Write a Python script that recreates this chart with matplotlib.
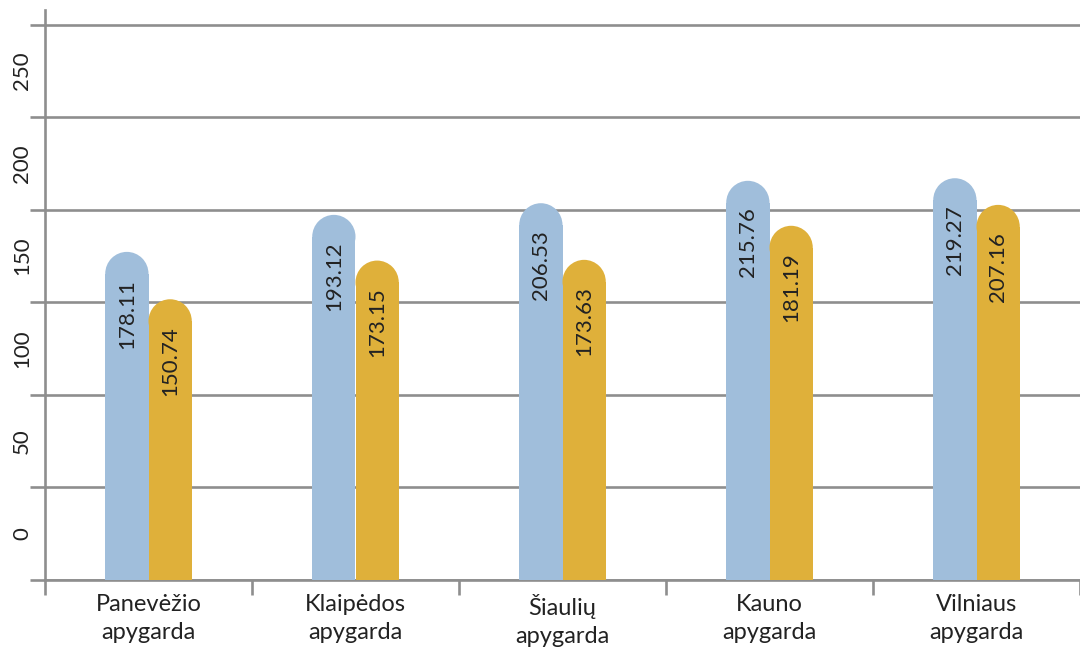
import matplotlib.pyplot as plt
import matplotlib.transforms as mtransforms
from matplotlib.patches import Ellipse
import numpy as np

plt.rcParams['font.family'] = ['Lato', 'DejaVu Sans']

# data
categories = ['Panevėžio\napygarda', 'Klaipėdos\napygarda', 'Šiaulių\napygarda',
              'Kauno\napygarda', 'Vilniaus\napygarda']
# bar heights as drawn in the picture
heights_a = [177.3, 197.3, 203.6, 215.7, 217.1]
heights_b = [151.7, 172.6, 173.0, 191.4, 202.7]
# printed values
labels_a = ['178.11', '193.12', '206.53', '215.76', '219.27']
labels_b = ['150.74', '173.15', '173.63', '181.19', '207.16']
y_ticks = [0, 50, 100, 150, 200, 250, 300]
y_tick_labels = ['0', '50', '100', '150', '200', '250']

color_a = '#a0bedb'
color_b = '#dfb03a'
grid_color = '#8e8e8e'
text_color = '#222222'

W, H, DPI = 10.8, 6.56, 100
fig = plt.figure(figsize=(W, H), dpi=DPI)
ax_left, ax_bottom = 45 / 1080, (656 - 580) / 656
ax_w, ax_h = 1 - ax_left, 570 / 656
ax = fig.add_axes([ax_left, ax_bottom, ax_w, ax_h])

x_lim = (-0.5, -0.5 + 1035 / 208.4)
y_lim = (0, 308)
ax.set_xlim(*x_lim)
ax.set_ylim(*y_lim)

bar_w = 0.209
x = np.arange(len(categories))

# pixel -> data scale for round caps
px_per_x = ax_w * W * DPI / (x_lim[1] - x_lim[0])
px_per_y = ax_h * H * DPI / (y_lim[1] - y_lim[0])
r_px = bar_w * px_per_x / 2
r_y = r_px / px_per_y

for vals, labs, off, col in [(heights_a, labels_a, -bar_w / 2, color_a),
                             (heights_b, labels_b, bar_w / 2, color_b)]:
    vals = np.array(vals)
    ax.bar(x + off, vals - r_y, width=bar_w, color=col, linewidth=0, zorder=3)
    for xi, v, lab in zip(x + off, vals, labs):
        ax.add_patch(Ellipse((xi, v - r_y), bar_w, 2 * r_y, color=col, linewidth=0, zorder=3))
        ax.text(xi, v - r_y - 5 / px_per_y, lab, rotation=90, ha='center', va='top',
                fontsize=16, color=text_color, zorder=4)

# axes styling
for s in ['top', 'right']:
    ax.spines[s].set_visible(False)
for s in ['left', 'bottom']:
    ax.spines[s].set_color(grid_color)
    ax.spines[s].set_linewidth(1.9)
ax.set_yticks(y_ticks)
ax.set_yticklabels([])
ax.tick_params(axis='y', length=11, width=1.9, color=grid_color, direction='out')
ax.yaxis.grid(True, color=grid_color, linewidth=1.9, zorder=0)
ax.set_axisbelow(True)

ax.set_xticks(np.arange(len(categories) + 1) - 0.5)
ax.set_xticklabels([])
ax.tick_params(axis='x', which='major', length=11, width=1.9, color=grid_color, direction='out')
ax.set_xticks(x, minor=True)
ax.set_xticklabels(categories, minor=True, fontsize=17, color=text_color, linespacing=1.4)
ax.tick_params(axis='x', which='minor', length=0, pad=10)

trans = mtransforms.blended_transform_factory(ax.transAxes, ax.transData)
for v, lab in zip(y_ticks, y_tick_labels):
    ax.text(-23 / (ax_w * W * DPI), v + 25, lab, transform=trans, rotation=90,
            ha='center', va='center', fontsize=16, color=text_color, clip_on=False)

fig.savefig('out.png', dpi=DPI)
